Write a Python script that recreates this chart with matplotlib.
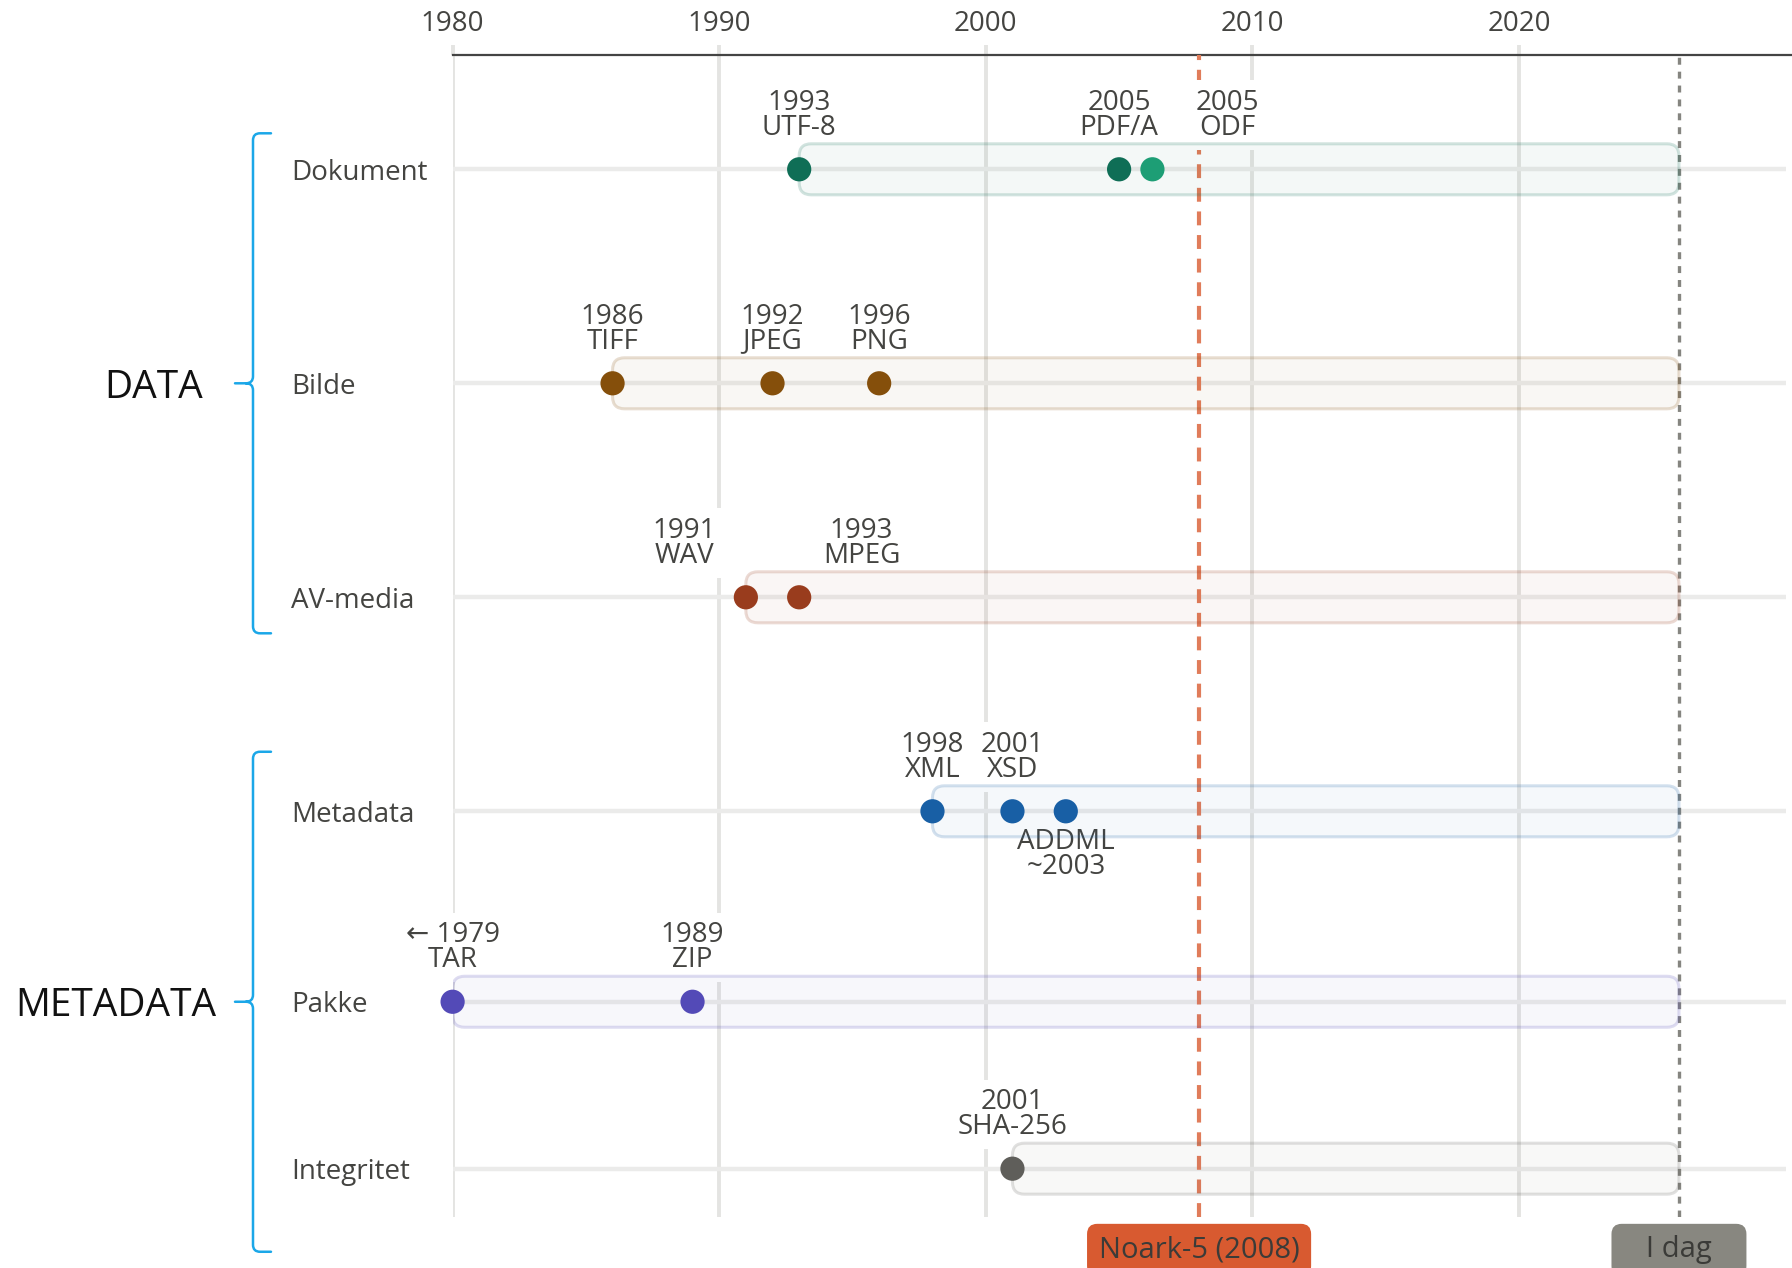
import matplotlib
matplotlib.use('Agg')
import matplotlib.pyplot as plt
from matplotlib.patches import FancyBboxPatch, PathPatch
from matplotlib.path import Path
import matplotlib.transforms as mtransforms
from matplotlib.colors import to_rgba

plt.rcParams['font.family'] = ['Open Sans', 'DejaVu Sans']
plt.rcParams['lines.scale_dashes'] = False

# ---------------- data ----------------
rows = ['Dokument', 'Bilde', 'AV-media', 'Metadata', 'Pakke', 'Integritet']
row_colors = ['#0f6e56', '#854f0b', '#993c1d', '#185fa5', '#534ab7', '#5f5e5a']

ev_row = [0, 0, 0, 1, 1, 1, 2, 2, 3, 3, 3, 4, 4, 5]
ev_x = [1993, 2005, 2006.25, 1986, 1992, 1996, 1991, 1993, 1998, 2001, 2003, 1980, 1989, 2001]
ev_year = ['1993', '2005', '2005', '1986', '1992', '1996', '1991', '1993', '1998', '2001', '~2003',
           '\u2190 1979', '1989', '2001']
ev_name = ['UTF-8', 'PDF/A', 'ODF', 'TIFF', 'JPEG', 'PNG', 'WAV', 'MPEG', 'XML', 'XSD', 'ADDML',
           'TAR', 'ZIP', 'SHA-256']
ev_color = ['#0f6e56', '#0f6e56', '#1d9e75', '#854f0b', '#854f0b', '#854f0b', '#993c1d', '#993c1d',
            '#185fa5', '#185fa5', '#185fa5', '#534ab7', '#534ab7', '#5f5e5a']

groups = ['DATA', 'METADATA']
group_rows = [[0, 1, 2], [3, 4, 5]]
group_mid = [1, 4]

x_ticks = [1980, 1990, 2000, 2010, 2020]
NOARK = 2008
NOARK_LABEL = 'Noark-5 (2008)'
TODAY = 2026
TODAY_LABEL = 'I dag'

# ---------------- layout ----------------
row_pos = [0, 1, 2, 3, 3.89, 4.67]
label_dx = [0, 0, 2.82, 0, 0, 0, -2.3, 2.34, 0, 0, 0, 0, 0, 0]
label_below = [False] * 10 + [True] + [False] * 3

W, H, DPI = 1792, 1268, 200
X0PX, TOPPX, BOTPX = 452.6, 55, 1217
PXY = 214.0          # pixels per row unit
PXX = 26.66          # pixels per year

fig = plt.figure(figsize=(W / DPI, H / DPI), dpi=DPI)
ax = fig.add_axes([X0PX / W, 1 - BOTPX / H, 1 - X0PX / W, (BOTPX - TOPPX) / H])
ax.set_xlim(1980, 1980 + (W - X0PX) / PXX)
ax.set_ylim((BOTPX - 169.3) / PXY, (TOPPX - 169.3) / PXY)

TXT = '#444441'
GRID = '#e4e4e2'

ax.set_xticks(x_ticks)
ax.xaxis.tick_top()
ax.tick_params(axis='x', length=3.6, width=1.4, color=GRID, labelsize=10,
               labelcolor=TXT, pad=2.5)
ax.set_yticks([])
ax.grid(axis='x', color=GRID, lw=1.4)
ax.set_axisbelow(True)
for s in ['left', 'right', 'bottom']:
    ax.spines[s].set_visible(False)
ax.spines['top'].set_color('#444444')
ax.spines['top'].set_linewidth(0.8)

# row guide lines
ax.hlines(row_pos, 1980, 2030, color='#ebebea', lw=1.6, zorder=1)

# reference lines
ax.axvline(NOARK, color='#e07c5a', lw=1.5, dashes=(5, 3.5), zorder=3)
ax.axvline(TODAY, color='#858580', lw=1.2, dashes=(2.5, 2.5), zorder=3)

# bars
bh = 25.5 / PXY
rs = 12 / PXX
asp = (12 / PXY) / rs
for i, r in enumerate(rows):
    xs = [ev_x[j] for j in range(len(ev_x)) if ev_row[j] == i]
    x0 = min(xs)
    y = row_pos[i]
    col = row_colors[i]
    p = FancyBboxPatch((x0, y - bh), TODAY - x0, 2 * bh,
                       boxstyle=f"round,pad=0,rounding_size={rs}",
                       mutation_aspect=asp, fc=to_rgba(col, 0.045),
                       ec=to_rgba(col, 0.19), lw=1.1, zorder=5)
    ax.add_patch(p)

# dots
ax.scatter(ev_x, [row_pos[r] for r in ev_row], s=76, c=ev_color, linewidths=0,
           zorder=6, clip_on=False)

# event labels
for j in range(len(ev_x)):
    y = row_pos[ev_row[j]]
    lx = ev_x[j] + label_dx[j]
    if label_below[j]:
        txt = f"{ev_name[j]}\n{ev_year[j]}"
        off, va = -6, 'top'
    else:
        txt = f"{ev_year[j]}\n{ev_name[j]}"
        off, va = 10, 'bottom'
    ax.annotate(txt, (lx, y), xytext=(0, off), textcoords='offset points',
                ha='center', va=va, fontsize=10, color=TXT, linespacing=0.85,
                multialignment='center', zorder=4,
                bbox=dict(boxstyle='square,pad=0.3', fc='white', ec='none'))

# row labels
btr = mtransforms.blended_transform_factory(ax.transAxes, ax.transData)
def fx(px):
    return (px - X0PX) / (W - X0PX)

for i, r in enumerate(rows):
    ax.text(fx(291), row_pos[i], r, transform=btr, ha='left', va='center_baseline',
            fontsize=10, color=TXT)

# braces and group labels
BR = '#1ba7e8'
half = 250 / PXY
cr = 7 / PXY
group_right_px = [203, 216]
for g, name in enumerate(groups):
    yc = row_pos[group_mid[g]]
    yt, yb = yc - half, yc + half
    xv, xh, xt = fx(253), fx(271), fx(235)
    xc = fx(260)
    xcr = fx(246)
    verts = [(xh, yt), (xc, yt), (xv, yt), (xv, yt + cr), (xv, yc - cr), (xv, yc), (xcr, yc), (xt, yc),
             (xcr, yc), (xv, yc), (xv, yc + cr), (xv, yb - cr), (xv, yb), (xc, yb), (xh, yb)]
    codes = [Path.MOVETO, Path.LINETO, Path.CURVE3, Path.CURVE3, Path.LINETO, Path.CURVE3, Path.CURVE3,
             Path.LINETO, Path.MOVETO, Path.CURVE3, Path.CURVE3, Path.LINETO, Path.CURVE3, Path.CURVE3,
             Path.LINETO]
    pp = PathPatch(Path(verts, codes), fill=False, ec=BR, lw=0.9, transform=btr,
                   clip_on=False, capstyle='round', joinstyle='round')
    ax.add_patch(pp)
    ax.text(fx(group_right_px[g]), yc, name, transform=btr, ha='right', va='center_baseline',
            fontsize=14, color='#111111')

# bottom markers
ylab = (1250 - 169.3) / PXY
ax.text(NOARK, ylab, NOARK_LABEL, ha='center', va='center', fontsize=10.5, color='#3b3b38',
        clip_on=False, zorder=7,
        bbox=dict(boxstyle='round,pad=0.4,rounding_size=0.35', fc='#d85a30', ec='none'))
ax.text(TODAY, ylab, '   ' + TODAY_LABEL + '   ', ha='center', va='center', fontsize=10.5,
        color='#3b3b38', clip_on=False, zorder=7,
        bbox=dict(boxstyle='round,pad=0.4,rounding_size=0.35', fc='#888780', ec='none'))

fig.savefig('out.png', dpi=DPI)
